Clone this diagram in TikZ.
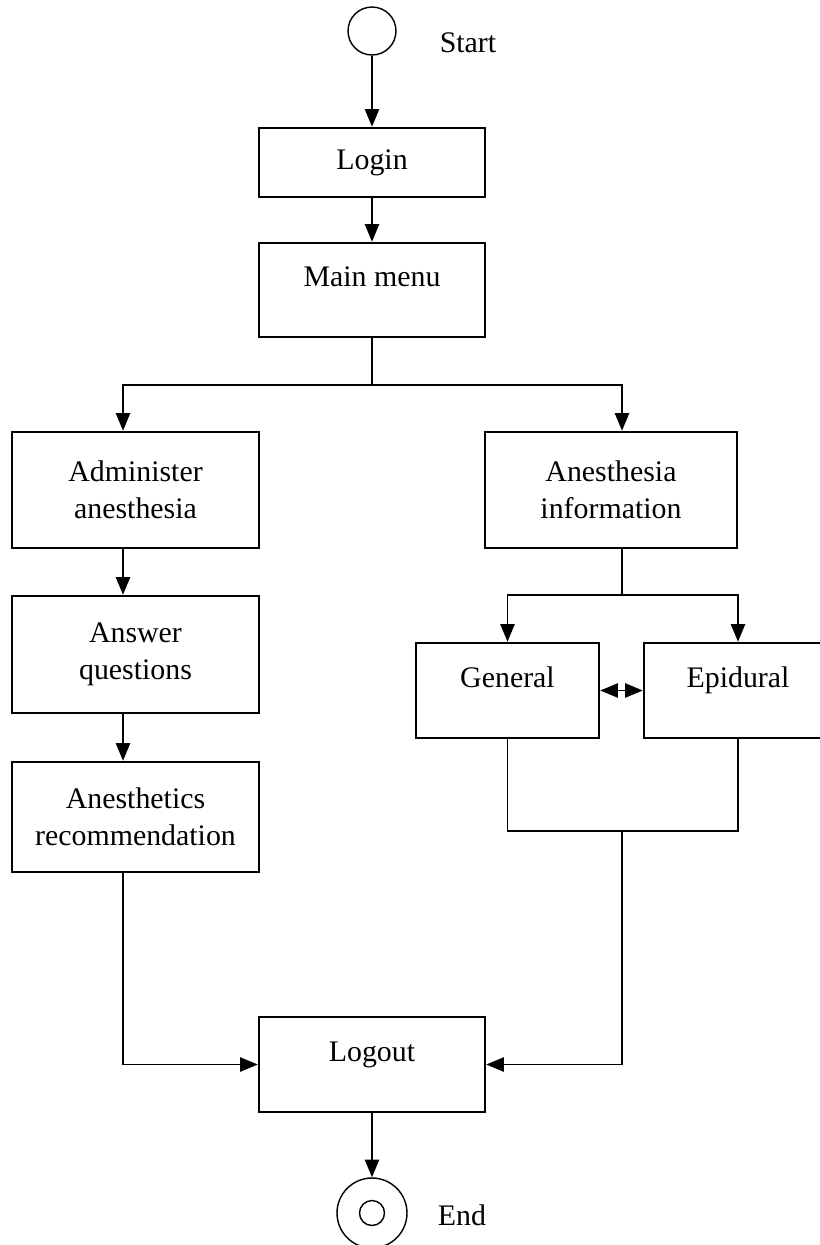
\documentclass[tikz,border=0pt]{standalone}
\usepackage{fontspec}
\setmainfont{Liberation Serif}
\usetikzlibrary{arrows.meta}
\begin{document}
\begin{tikzpicture}[x=0.02cm, y=-0.02cm, font=\fontsize{17pt}{21pt}\selectfont,
	line join=miter, >={Triangle[length=10pt,width=8pt]},
	box/.style={draw, line width=1.4pt, rectangle, inner sep=0pt, align=center},
	uptext/.style={text depth=0.52cm},
	ring/.style={draw, line width=0.8pt, circle, inner sep=0pt},
	link/.style={line width=1.1pt}
	]
	%	\draw[gray!10] (0,0) grid[step=50] (819,1245);
	\useasboundingbox (0,0) rectangle (819,1245);
	\node[ring, minimum size=0.96cm] (start) at (372,31) {};
	\node (startlbl) at (468,43) {Start};
	\node[box, minimum width=4.52cm, minimum height=1.38cm] (login) at (372,162.5) {Login};
	\node[box, uptext, minimum width=4.52cm, minimum height=1.88cm] (menu) at (372,290) {Main menu};
	\node[box, minimum width=4.94cm, minimum height=2.32cm] (admin) at (135.5,490) {Administer\\anesthesia};
	\node[box, minimum width=4.94cm, minimum height=2.34cm] (answer) at (135.5,654.5) {Answer\\questions};
	\node[box, minimum width=4.94cm, minimum height=2.2cm] (recom) at (135.5,817) {Anesthetics\\recommendation};
	\node[box, minimum width=5.04cm, minimum height=2.32cm] (info) at (611,490) {Anesthesia\\information};
	\node[box, uptext, minimum width=3.66cm, minimum height=1.9cm] (general) at (507.5,690.5) {General};
	\node[box, uptext, minimum width=3.76cm, minimum height=1.9cm] (epidural) at (738,690.5) {Epidural};
	\node[box, uptext, minimum width=4.52cm, minimum height=1.9cm] (logout) at (372,1064.5) {Logout};
	\node[ring, minimum size=1.4cm] (stop) at (372,1213) {};
	\node[ring, minimum size=0.5cm] (stopdot) at (stop) {};
	\node (stoplbl) at (462,1215) {End};
	\coordinate (j1) at (372,385);
	\coordinate (s1) at (123,385);
	\coordinate (s2) at (622,385);
	\coordinate (j2) at (622,595);
	\coordinate (j3) at (622,831);
	\draw[link,->] (start) -- (login);
	\draw[link,->] (login) -- (menu);
	\draw[link] (menu) -- (j1);
	\draw[link,->] (j1) -| (s1 |- admin.north);
	\draw[link,->] (j1) -| (s2 |- info.north);
	\draw[link,->] (admin.south -| s1) -- (answer.north -| s1);
	\draw[link,->] (answer.south -| s1) -- (recom.north -| s1);
	\draw[link,->] (recom.south -| s1) |- (logout.west);
	\draw[link] (info.south -| j2) -- (j2);
	\draw[link,->] (j2) -| (general.north);
	\draw[link,->] (j2) -| (epidural.north);
	\draw[link,<->] (general) -- (epidural);
	\draw[link] (general.south) |- (j3) -| (epidural.south);
	\draw[link,->] (j3) |- (logout.east);
	\draw[link,->] (logout) -- (stop);
\end{tikzpicture}
\end{document}
